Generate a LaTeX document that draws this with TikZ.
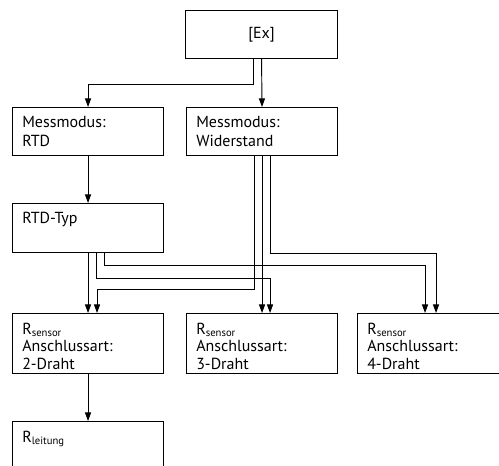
\documentclass[tikz,border=0pt]{standalone}
\usepackage{fontspec}
\setmainfont{PT Sans}
\usetikzlibrary{arrows.meta}

\tikzset{
  box/.style={draw, line width=0.8pt, rectangle, anchor=north west,
    minimum width=113.25pt, minimum height=36pt, inner sep=0pt,
    font=\fontsize{12}{14.25}\selectfont},
  tall/.style={minimum height=45pt},
  txt/.style={anchor=north west, align=left, inner sep=0pt,
    xshift=7.5pt, yshift=-7pt, font=\fontsize{12}{14.25}\selectfont},
  txtb/.style={txt, yshift=-0.3pt, font=\fontsize{12}{13.2}\selectfont},
  conn/.style={line width=0.7pt, -{Triangle[length=6.5pt,width=4.6pt]}},
}

\begin{document}
\begin{tikzpicture}[x=0.75pt, y=-0.75pt]
\useasboundingbox (0,0) rectangle (499,466);
\clip (0,0) rectangle (499,466);

\node[box, minimum width=114pt] (ex) at (185,10) {[Ex]};

\node[box, label={[txt]north west:{Messmodus:\\RTD}}] (rtd) at (12,107) {};
\node[box, label={[txt]north west:{Messmodus:\\Widerstand}}] (wid) at (186,107) {};

\node[box, minimum height=36.75pt, label={[txt]north west:{RTD-Typ}}] (typ) at (12,203) {};

\node[box, tall, label={[txtb]north west:{R\textsubscript{sensor}\\Anschlussart:\\2-Draht}}] (d2) at (12,313) {};
\node[box, tall, label={[txtb]north west:{R\textsubscript{sensor}\\Anschlussart:\\3-Draht}}] (d3) at (186,313) {};
\node[box, tall, label={[txtb]north west:{R\textsubscript{sensor}\\Anschlussart:\\4-Draht}}] (d4) at (357,313) {};

\node[box, tall, label={[txtb]north west:{R\textsubscript{leitung}}}] (leit) at (12,421) {};

\draw[conn] ([shift={(-8,0)}]ex.south) -- ++(0,25) -| (rtd.north);
\draw[conn] (ex.south) -- (wid.north);
\draw[conn] (rtd) -- (typ);

\draw[conn] ([shift={(-8,0)}]wid.south) -- ++(0,133) -| ([shift={(9,0)}]d2.north);
\draw[conn] (wid) -- (d3);
\draw[conn] ([shift={(8,0)}]wid.south) -- ++(0,97) -| ([shift={(3,0)}]d4.north);

\draw[conn] (typ) -- (d2);
\draw[conn] ([shift={(8,0)}]typ.south) -- ++(0,25) -| ([shift={(8,0)}]d3.north);
\draw[conn] ([shift={(16,0)}]typ.south) -- ++(0,12) -| ([shift={(-8,0)}]d4.north);

\draw[conn] (d2) -- (leit);
\end{tikzpicture}
\end{document}
